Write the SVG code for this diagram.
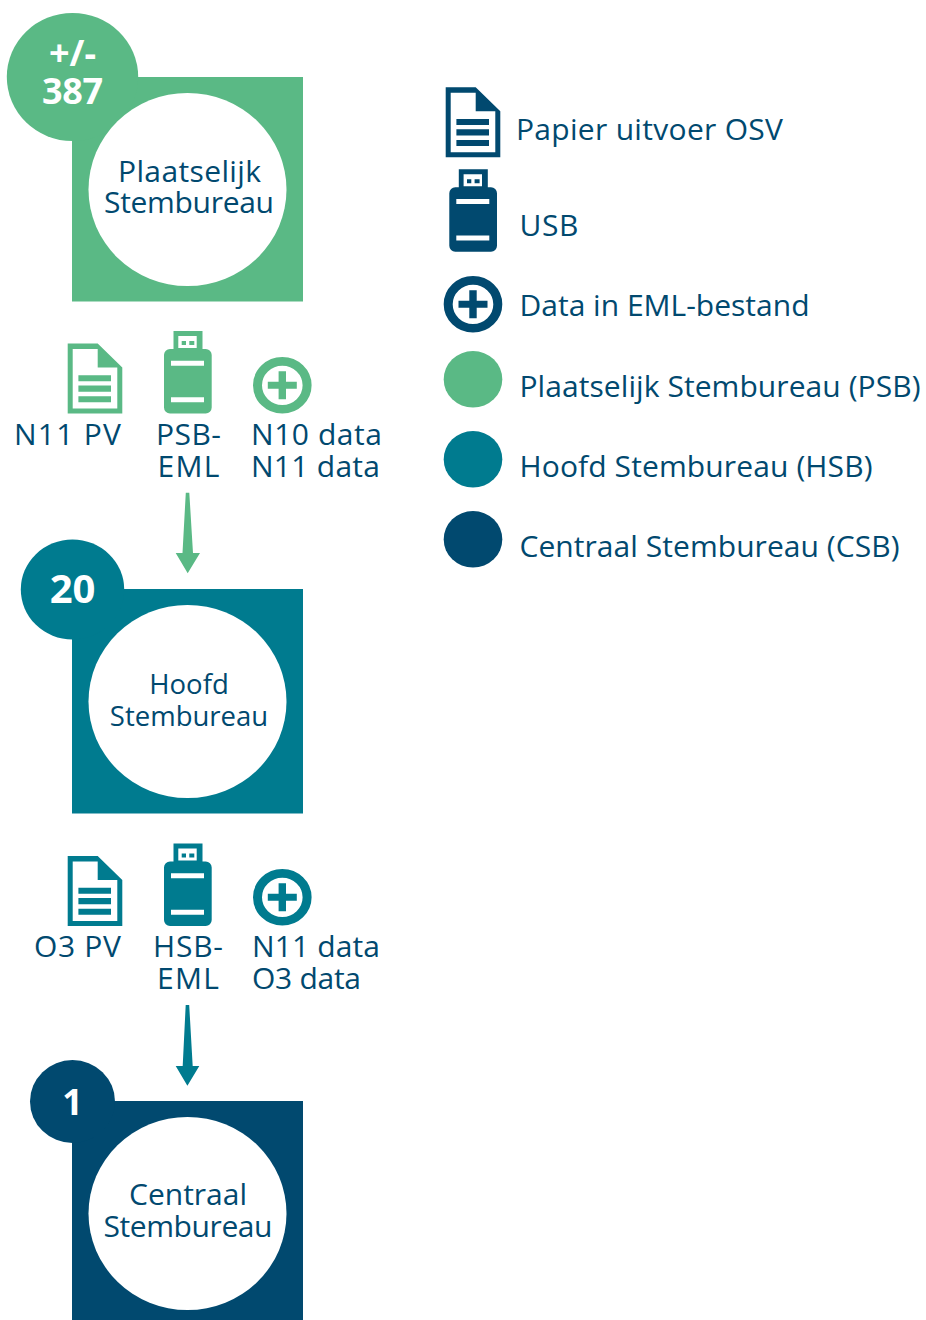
<svg xmlns="http://www.w3.org/2000/svg" width="926" height="1320" viewBox="0 0 926 1320">
<style>
text{font-family:"Open Sans","Noto Sans","Liberation Sans",sans-serif;font-size:30px;fill:#01496f}
.m{text-anchor:middle}
.b{font-weight:700;fill:#fff;font-size:36px;text-anchor:middle}
.s{font-size:27.500px}
.g{color:#5ab985;fill:#5ab985}.t{color:#007b8f;fill:#007b8f}.n{color:#01496f;fill:#01496f}
</style>
<defs>
<g id="doc"><path fill="currentColor" fill-rule="evenodd" d="M0 0H30L54.6 24V70H0ZM5 5.500V65H49.600V24H30V5.500Z"/><path fill="currentColor" d="M10.700 31.700H43.300V37.700H10.700ZM10.700 42H43.300V48.300H10.700ZM10.700 52.700H43.300V58.700H10.700Z"/></g>
<g id="usb"><path fill="currentColor" fill-rule="evenodd" d="M9.500 0H38.500V19H9.500ZM14.300 5V17H32.700V5Z"/><path fill="currentColor" d="M17.700 10H22V14H17.700ZM25.300 10H30.300V14H25.300Z"/><path fill="currentColor" fill-rule="evenodd" d="M6 18H41.700A6 6 0 0 1 47.700 24V76.500A6 6 0 0 1 41.700 82.500H6A6 6 0 0 1 0 76.500V24A6 6 0 0 1 6 18ZM7 29.700V34.700H40V29.700ZM7 66.300V71.300H40V66.300Z"/></g>
<g id="plus" transform="scale(1 .965)"><circle r="24.800" fill="none" stroke="currentColor" stroke-width="9"/><path fill="currentColor" d="M-3.700-14.500H3.700V-3.700H14.500V3.700H3.700V14.500H-3.700V3.700H-14.500V-3.700H-3.700Z"/></g>
</defs>

<g id="psb-node">
<rect class="g" x="72" y="77" width="231" height="224.500"/>
<ellipse class="g" cx="72.500" cy="77" rx="65.700" ry="64"/>
<ellipse cx="187.500" cy="189.500" rx="99" ry="96.500" fill="#fff"/>
<text class="b"><tspan x="72.500" y="66">+/-</tspan><tspan x="72.500" y="104" textLength="61">387</tspan></text>
<text class="m"><tspan x="189.500" y="182" textLength="143">Plaatselijk</tspan><tspan x="189" y="213" textLength="170">Stembureau</tspan></text>
</g>
<g id="psb-items">
<use href="#doc" class="g" x="67.700" y="343.500"/>
<use href="#usb" class="g" x="164" y="331"/>
<use href="#plus" class="g" x="282.300" y="385.300"/>
<text x="14" y="445" textLength="107">N11 PV</text>
<text class="m"><tspan x="188.500" y="445" textLength="65">PSB-</tspan><tspan x="188.500" y="477" textLength="62">EML</tspan></text>
<text><tspan x="251" y="445" textLength="131">N10 data</tspan><tspan x="251" y="477" textLength="129">N11 data</tspan></text>
</g>
<g id="connectors">
<path class="g" d="M185.800 492.700H189.300L193 553H200L187.700 573.300L175.700 553H182.500Z"/>
<path class="t" d="M185.700 1005H189.200L192.700 1066H199.300L187.400 1085.700L175.700 1066H182.700Z"/>
</g>
<g id="hsb-node">
<rect class="t" x="72" y="589" width="231" height="224.500"/>
<ellipse class="t" cx="72.500" cy="589.500" rx="51.700" ry="50"/>
<ellipse cx="187.500" cy="701.500" rx="99" ry="96.500" fill="#fff"/>
<text class="b" x="72.500" y="603" style="font-size:40px">20</text>
<text class="m s"><tspan x="189" y="694">Hoofd</tspan><tspan x="189" y="726">Stembureau</tspan></text>
</g>
<g id="hsb-items">
<use href="#doc" class="t" x="67.700" y="856"/>
<use href="#usb" class="t" x="164" y="843.500"/>
<use href="#plus" class="t" x="282.300" y="897.300"/>
<text x="34" y="957" textLength="87">O3 PV</text>
<text class="m"><tspan x="188" y="957" textLength="70">HSB-</tspan><tspan x="188" y="989" textLength="62">EML</tspan></text>
<text><tspan x="252" y="957" textLength="128">N11 data</tspan><tspan x="252" y="989" textLength="109">O3 data</tspan></text>
</g>
<g id="csb-node">
<rect class="n" x="72" y="1101" width="231" height="219"/>
<ellipse class="n" cx="72.500" cy="1101.500" rx="42.500" ry="41.500"/>
<ellipse cx="187.500" cy="1213.500" rx="99" ry="96.500" fill="#fff"/>
<text class="b" x="72.500" y="1115">1</text>
<text class="m"><tspan x="188" y="1205" textLength="118">Centraal</tspan><tspan x="188" y="1237" textLength="169">Stembureau</tspan></text>
</g>
<g id="legend">
<use href="#doc" class="n" x="445.700" y="87.300"/>
<text x="516" y="140" textLength="267">Papier uitvoer OSV</text>
<use href="#usb" class="n" x="449.300" y="169.300"/>
<text x="519.500" y="236" textLength="59">USB</text>
<use href="#plus" class="n" x="473" y="304.300"/>
<text x="519.500" y="316" textLength="290">Data in EML-bestand</text>
<ellipse class="g" cx="473" cy="379.300" rx="29.300" ry="28.300"/>
<text x="519.500" y="396.500" textLength="401">Plaatselijk Stembureau (PSB)</text>
<ellipse class="t" cx="473" cy="459.300" rx="29.300" ry="28.300"/>
<text x="519.500" y="476.500" textLength="353">Hoofd Stembureau (HSB)</text>
<ellipse class="n" cx="473" cy="539.300" rx="29.300" ry="28.300"/>
<text x="519.500" y="556.500" textLength="380">Centraal Stembureau (CSB)</text>
</g>
</svg>
